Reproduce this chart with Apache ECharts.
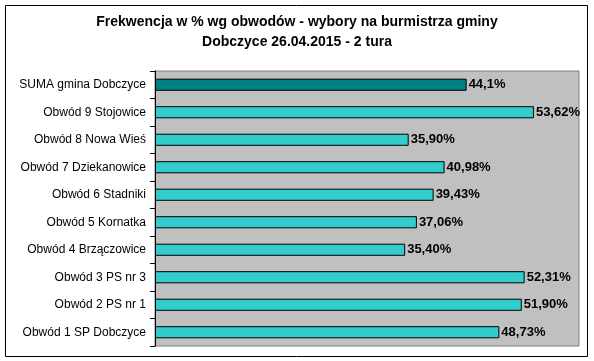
<!DOCTYPE html>
<html><head><meta charset="utf-8">
<script src="https://cdn.jsdelivr.net/npm/echarts@6/dist/echarts.min.js"></script>
<style>html,body{margin:0;padding:0;background:#fff}#c{width:594px;height:361px}</style>
</head><body><div id="c"></div>
<script>
const titleLines = ['Frekwencja w % wg obwodów - wybory na burmistrza gminy', 'Dobczyce 26.04.2015 - 2 tura'];
const categories = ['SUMA gmina Dobczyce','Obwód 9 Stojowice','Obwód 8 Nowa Wieś','Obwód 7 Dziekanowice','Obwód 6 Stadniki','Obwód 5 Kornatka','Obwód 4 Brzączowice','Obwód 3 PS nr 3','Obwód 2 PS nr 1','Obwód 1 SP Dobczyce'];
const values = [44.1, 53.62, 35.90, 40.98, 39.43, 37.06, 35.40, 52.31, 51.90, 48.73];
const valueLabels = ['44,1%','53,62%','35,90%','40,98%','39,43%','37,06%','35,40%','52,31%','51,90%','48,73%'];

const chart = echarts.init(document.getElementById('c'));
chart.setOption({
  animation: false,
  backgroundColor: '#fff',
  title: {
    text: titleLines.join('\n'), left: 'center', top: 7,
    textStyle: {fontFamily: 'Liberation Sans, Arial', fontSize: 14, fontWeight: 'bold', color: '#000', lineHeight: 20}
  },
  graphic: [{type: 'rect', shape: {x: 5.5, y: 5.5, width: 582, height: 351}, style: {fill: 'none', stroke: '#000', lineWidth: 1}, z: -1}],
  grid: {left: 155, right: 15, top: 71, bottom: 15, show: true, backgroundColor: '#C0C0C0', borderColor: '#808080', borderWidth: 1},
  xAxis: {type: 'value', min: 0, max: 60, show: false, splitLine: {show: false}},
  yAxis: {
    type: 'category', inverse: true, data: categories,
    axisLine: {show: true, lineStyle: {color: '#000', width: 1}},
    axisTick: {show: true, length: 5, lineStyle: {color: '#000'}},
    axisLabel: {fontFamily: 'Liberation Sans, Arial', fontSize: 12, color: '#000', margin: 9}
  },
  series: [{
    type: 'bar', barWidth: '44%',
    data: values.map((v, i) => ({value: v, itemStyle: {color: i === 0 ? '#008080' : '#33CCCC'}})),
    itemStyle: {borderColor: '#000', borderWidth: 1},
    label: {show: true, position: 'right', distance: 2, formatter: p => valueLabels[p.dataIndex],
      fontFamily: 'Liberation Sans, Arial', fontSize: 13, fontWeight: 'bold', color: '#000'}
  }]
});
</script></body></html>
